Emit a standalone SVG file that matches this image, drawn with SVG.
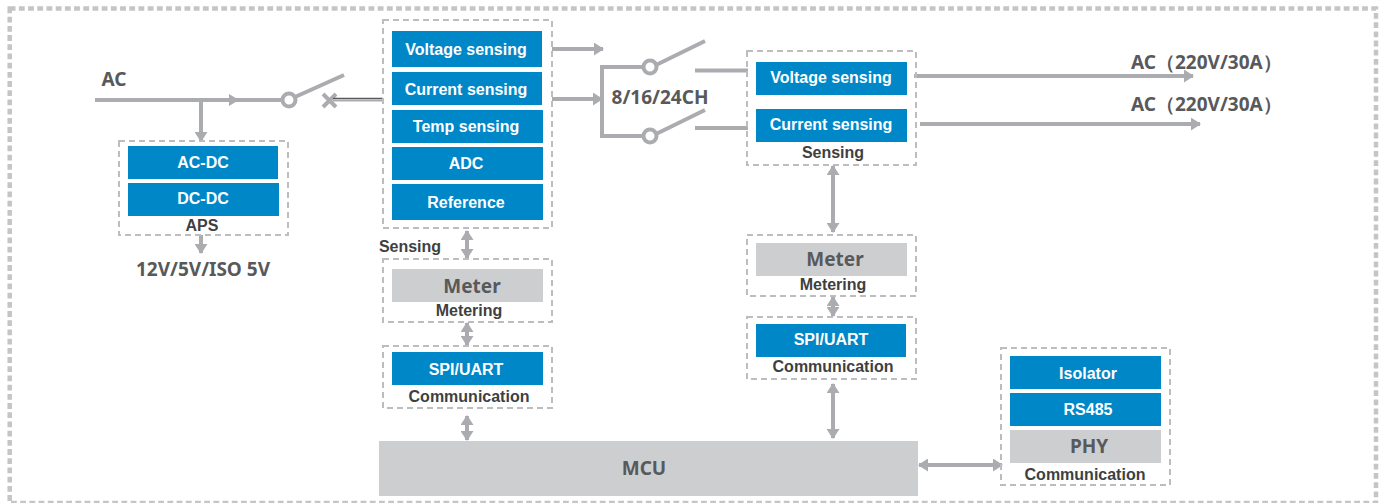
<svg xmlns="http://www.w3.org/2000/svg" width="1381" height="503" viewBox="0 0 1381 503">
<style>
.bk{fill:#0087c8}.gy{fill:#cdced0}
.gr{fill:none;stroke:#bcbdbf;stroke-width:2;stroke-dasharray:6 4}
.ln{fill:none;stroke:#abacaf;stroke-width:4}
.dbl{fill:none;stroke:#abacaf;stroke-width:4;marker-start:url(#a);marker-end:url(#a)}
.one{fill:none;stroke:#abacaf;stroke-width:4;marker-end:url(#a)}
.w{font:bold 16px "Liberation Sans",Arial,sans-serif;fill:#fff;text-anchor:middle}
.l{font:bold 16px "Liberation Sans",Arial,sans-serif;fill:#3f3f41;text-anchor:middle}
.n{font:bold 19px "Noto Sans","Open Sans",sans-serif;fill:#58595b;text-anchor:middle}
.c{fill:#fff;stroke:#abacaf;stroke-width:4}
</style>
<defs>
<marker id="a" viewBox="0 0 10 10" refX="9" refY="5" markerUnits="userSpaceOnUse" markerWidth="10" markerHeight="13" orient="auto-start-reverse" preserveAspectRatio="none"><path d="M0 0L10 5L0 10Z" fill="#abacaf"/></marker>
</defs>
<rect id="frame" x="9.700" y="8.500" width="1366.300" height="494.500" fill="none" stroke="#c4c5c7" stroke-width="4.500" stroke-dasharray="5.800 3.400"/>
<g id="connectors">
<path class="ln" d="M95 100H283"/><path d="M229 94L239 100L229 106Z" fill="#abacaf"/>
<path class="ln" d="M295 97L344 75"/>
<path d="M323 94L336 107M336 94L323 107" fill="none" stroke="#abacaf" stroke-width="4"/>
<path d="M333 98.500H383" fill="none" stroke="#58595b" stroke-width="1.500"/>
<path d="M333 100.500H383" fill="none" stroke="#abacaf" stroke-width="2"/>
<path class="one" d="M201 100V141"/>
<path class="one" d="M201 235V253"/>
<path class="one" d="M552 49H603"/>
<path class="one" d="M552 99H602"/>
<path class="ln" d="M650 67H602V136H650"/>
<path class="ln" d="M656 65L705 41M656 134L705 110"/>
<path class="ln" d="M695 70.500H748M695 128H748"/>
<path class="one" d="M914 76H1193"/>
<path class="one" d="M920 124H1200"/>
<path class="dbl" d="M467 231V258"/>
<path class="dbl" d="M467 323V345"/>
<path class="dbl" d="M467 416V440"/>
<path class="dbl" d="M833 166V232"/>
<path class="dbl" d="M833 297V316"/>
<path class="dbl" d="M833 384V438"/>
<path class="dbl" d="M919 465H1002"/>
<circle class="c" cx="289" cy="100" r="6.500"/>
<circle class="c" cx="650" cy="67" r="6.500"/>
<circle class="c" cx="650" cy="136" r="6.500"/>
</g>
<g id="ac-in"><text class="n" x="114" y="86">AC</text></g>
<g id="aps">
<rect class="gr" x="119" y="141" width="169" height="94"/>
<rect class="bk" x="128" y="146" width="150" height="33"/><text class="w" x="203" y="168">AC-DC</text>
<rect class="bk" x="128" y="183" width="151" height="33"/><text class="w" x="203" y="204">DC-DC</text>
<text class="l" x="202" y="231">APS</text>
</g>
<g id="output-v"><text class="n" x="203" y="276">12V/5V/ISO 5V</text></g>
<g id="sensing-a">
<rect class="gr" x="383" y="20" width="169" height="208"/>
<rect class="bk" x="392" y="31" width="150" height="36"/><text class="w" x="466" y="55">Voltage sensing</text>
<rect class="bk" x="392" y="72" width="150" height="33"/><text class="w" x="466" y="95">Current sensing</text>
<rect class="bk" x="392" y="110" width="151" height="33"/><text class="w" x="466" y="132">Temp sensing</text>
<rect class="bk" x="392" y="147" width="151" height="33"/><text class="w" x="466" y="169">ADC</text>
<rect class="bk" x="392" y="184" width="151" height="36"/><text class="w" x="466" y="208">Reference</text>
<text class="l" x="410" y="252">Sensing</text>
</g>
<g id="meter-a">
<rect class="gr" x="383" y="259" width="169" height="63"/>
<rect class="gy" x="392" y="269" width="151" height="33"/><text class="n" x="472" y="293">Meter</text>
<text class="l" x="469" y="316">Metering</text>
</g>
<g id="comm-a">
<rect class="gr" x="383" y="346" width="169" height="62"/>
<rect class="bk" x="392" y="352" width="151" height="33"/><text class="w" x="466" y="375">SPI/UART</text>
<text class="l" x="469" y="402">Communication</text>
</g>
<g id="channels"><text class="n" x="660" y="104">8/16/24CH</text></g>
<g id="sensing-b">
<rect class="gr" x="747" y="51" width="169" height="114"/>
<rect class="bk" x="756" y="62" width="151" height="33"/><text class="w" x="831" y="83">Voltage sensing</text>
<rect class="bk" x="756" y="109" width="151" height="33"/><text class="w" x="831" y="130">Current sensing</text>
<text class="l" x="833" y="158">Sensing</text>
</g>
<g id="outputs">
<text class="n" style="text-anchor:start" x="1131" y="69">AC（220V/30A）</text>
<text class="n" style="text-anchor:start" x="1131" y="111">AC（220V/30A）</text>
</g>
<g id="meter-b">
<rect class="gr" x="747" y="235" width="169" height="61"/>
<rect class="gy" x="756" y="243" width="151" height="33"/><text class="n" x="835" y="266">Meter</text>
<text class="l" x="833" y="290">Metering</text>
</g>
<g id="comm-b">
<rect class="gr" x="747" y="317" width="169" height="62"/>
<rect class="bk" x="756" y="324" width="150" height="33"/><text class="w" x="831" y="345">SPI/UART</text>
<text class="l" x="833" y="372">Communication</text>
</g>
<g id="mcu">
<rect class="gy" x="379" y="441" width="539" height="55"/><text class="n" x="644" y="475">MCU</text>
</g>
<g id="comm-c">
<rect class="gr" x="1001" y="348" width="169" height="137"/>
<rect class="bk" x="1010" y="356" width="151" height="33"/><text class="w" x="1088" y="379">Isolator</text>
<rect class="bk" x="1010" y="393" width="151" height="33"/><text class="w" x="1088" y="415">RS485</text>
<rect class="gy" x="1010" y="430" width="151" height="33"/><text class="n" x="1089" y="453">PHY</text>
<text class="l" x="1085" y="480">Communication</text>
</g>
</svg>
